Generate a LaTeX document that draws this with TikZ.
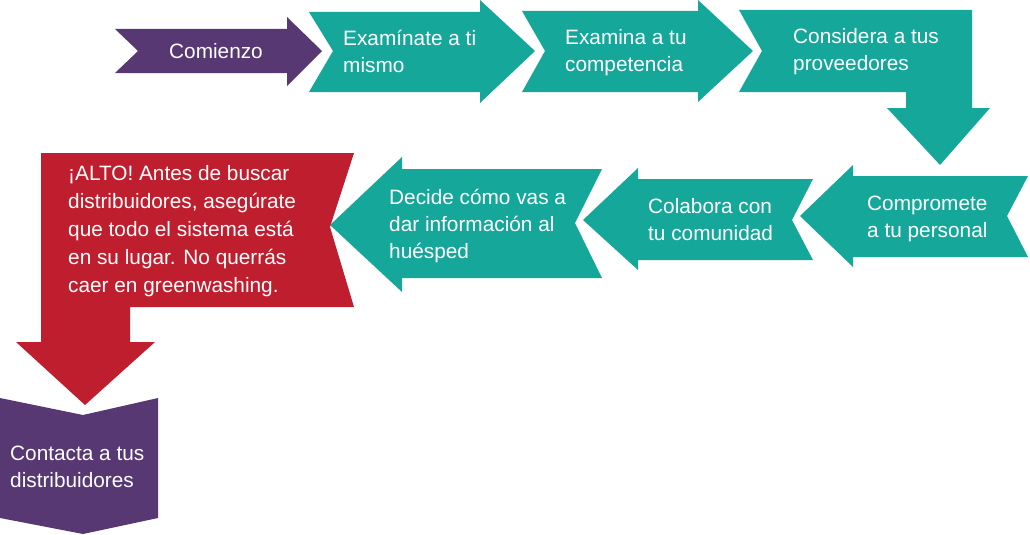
\documentclass[tikz,border=0pt]{standalone}
\usepackage{fontspec}
\usepackage{xcolor}
\usepackage{tikz}
\newfontfamily\arrowfont{Liberation Sans}
\definecolor{darkpurple}{HTML}{573873}
\definecolor{darkteal}{HTML}{16A79B}
\definecolor{alertred}{HTML}{BE1E2D}

\begin{document}
\begin{tikzpicture}[x=1pt,y=-1pt]
    \tikzstyle{arrow_text}=[text=white,font=\arrowfont\fontsize{20.8}{27}\selectfont,align=left,inner sep=0pt,anchor=west]
    \useasboundingbox (0,0) rectangle (1030,535);

    % first row, pointing right
    \fill[darkpurple] (115,29) -- (287,29) -- (287,17) -- (322,51) -- (287,86) -- (287,73) -- (115,73) -- (138,51) -- cycle;
    \fill[darkteal] (309,12) -- (480,12) -- (480,0) -- (535,51) -- (480,103) -- (480,92) -- (309,92) -- (333,51) -- cycle;
    \fill[darkteal] (522,11) -- (698,11) -- (698,0) -- (753,51) -- (698,102) -- (698,92) -- (522,92) -- (545,51) -- cycle;
    \fill[darkteal] (739,10) -- (972,10) -- (972,108) -- (990,108) -- (940,165) -- (887,108) -- (906,108) -- (906,92) -- (739,92) -- (762,51) -- cycle;

    % second row, pointing left
    \fill[darkteal] (1028,176) -- (853,176) -- (853,165) -- (800,216) -- (853,267) -- (853,257) -- (1028,257) -- (1007,216) -- cycle;
    \fill[darkteal] (813,179) -- (638,179) -- (638,168) -- (583,220) -- (638,270) -- (638,260) -- (813,260) -- (792,220) -- cycle;
    \fill[darkteal] (602,169) -- (402,169) -- (402,157) -- (330,225) -- (402,292) -- (402,278) -- (602,278) -- (575,223) -- cycle;
    \fill[alertred] (41,153) -- (354,153) -- (330,227) -- (354,307) -- (130,307) -- (130,342) -- (155,342) -- (85,405) -- (16,342) -- (41,342) -- cycle;

    % last step
    \fill[darkpurple] (0,398) -- (83,415) -- (158,398) -- (158,518) -- (83,534) -- (0,518) -- cycle;

    \node[arrow_text,anchor=center] (start) at (216,51) {Comienzo};
    \node[arrow_text] (self) at (343,51) {Examínate a ti\\mismo};
    \node[arrow_text] (competition) at (565,53) {Examina a tu\\competencia};
    \node[arrow_text] (suppliers) at (793,52) {Considera a tus\\proveedores};
    \node[arrow_text] (staff) at (867,219) {Compromete\\a tu personal};
    \node[arrow_text] (community) at (648,220) {Colabora con\\tu comunidad};
    \node[arrow_text] (guest) at (389,226) {Decide cómo vas a\\dar información al\\huésped};
    \node[arrow_text,font=\arrowfont\fontsize{20.8}{28}\selectfont] (stop) at (68,231) {¡ALTO! Antes de buscar\\distribuidores, asegúrate\\que todo el sistema está\\en su lugar. No querrás\\caer en greenwashing.};
    \node[arrow_text] (distributors) at (10,467) {Contacta a tus\\distribuidores};
\end{tikzpicture}
\end{document}
